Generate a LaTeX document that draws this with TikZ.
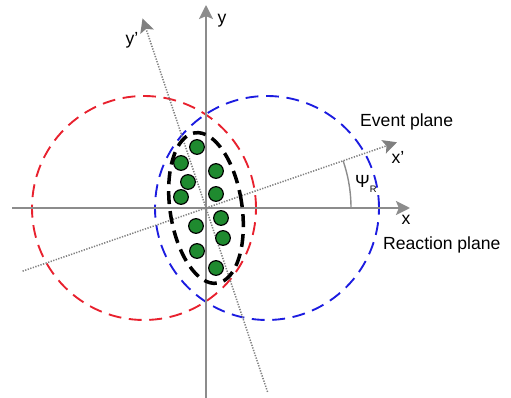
\documentclass[tikz,border=0pt]{standalone}
\usepackage{fontspec}
\setmainfont{Liberation Sans}
\usepackage{tikz}
\usetikzlibrary{arrows.meta,positioning,calc}
\definecolor{axc}{HTML}{8C8C8C}
\definecolor{dotc}{HTML}{808080}
\definecolor{redc}{HTML}{E8212E}
\definecolor{bluec}{HTML}{1C1CE0}
\definecolor{nucc}{HTML}{1F8A2F}
\tikzset{
  >={Stealth[length=12pt,width=12pt,inset=2.5pt]},
  axis/.style={->,draw=axc,line width=1.5pt},
  raxis/.style={->,draw=dotc,line width=1.3pt,dash pattern=on 1.1pt off 1.2pt},
  angarc/.style={draw=axc,line width=1.2pt},
  redring/.style={draw=redc,line width=1.6pt,dash pattern=on 11pt off 6.5pt},
  bluering/.style={draw=bluec,line width=1.6pt,dash pattern=on 11pt off 6.5pt},
  almond/.style={draw=black,line width=3pt,dash pattern=on 11pt off 6pt},
  nucl/.style={circle,draw=black,line width=1pt,fill=nucc,minimum size=4.4mm,inner sep=0pt},
  lab/.style={font=\fontsize{15}{17}\selectfont,inner sep=0pt},
}
\newcommand{\subR}{\raisebox{-0.6ex}{\fontsize{8}{9}\selectfont R}}

\begin{document}
\begin{tikzpicture}[scale=0.03]
  \useasboundingbox (-206,-190) rectangle (305,208);
  \coordinate (O) at (0,0);
  \coordinate (xs) at (-194,0);  \coordinate (xe) at (204,0);
  \coordinate (ys) at (0,-190);  \coordinate (ye) at (0,203);
  \coordinate (xps) at (199:194); \coordinate (xpe) at (19:202);
  \coordinate (yps) at (288.5:194); \coordinate (ype) at (108.5:200);
  % the two nuclei
  \draw[redring] (-62,0) circle[radius=112];
  \draw[bluering] (61,0) circle[radius=112];
  % axes
  \draw[axis] (xs) -- (xe);
  \draw[axis] (ys) -- (ye);
  \draw[raxis] (xps) -- (xpe);
  \draw[raxis] (yps) -- (ype);
  \draw[angarc] (145,0) arc[start angle=0,end angle=19,radius=145];
  % overlap zone
  \draw[almond,rotate=8.5] (O) ellipse[x radius=36,y radius=76];
  \foreach \p/\q [count=\i] in {-9/61,-25/45,10/37,-18/26,-25/11,10/14,15/-10,-10/-18,17/-30,-9/-43,10/-60}
    \node[nucl] (n\i) at (\p,\q) {};
  \node[lab] (ylab) at (16,187) {y};
  \node[lab] (yplab) at (-74,168) {y’};
  \node[lab] (xplab) at (192,51) {x’};
  \node[lab] (xlab) at (200,-12) {x};
  \node[lab,anchor=west] (psi) at (149,24) {Ψ\subR};
  \node[lab,anchor=west] (ep) at (154,86) {Event plane};
  \node[lab,anchor=west] (rp) at (177,-37) {Reaction plane};
\end{tikzpicture}
\end{document}
